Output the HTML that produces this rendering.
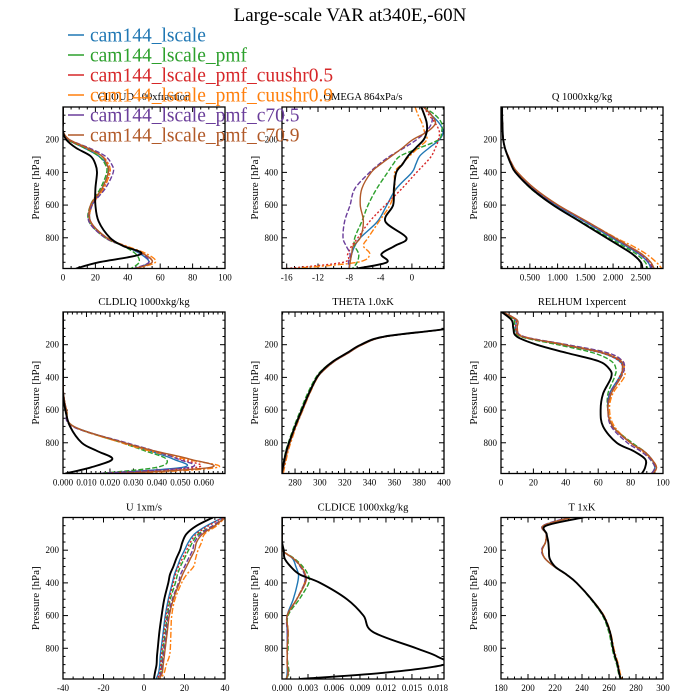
<!DOCTYPE html>
<html><head><meta charset="utf-8">
<style>
html,body{margin:0;padding:0;background:#fff;}
svg{display:block;font-family:"Liberation Serif",serif;}
</style></head>
<body>
<svg id="chart" width="700" height="700" viewBox="0 0 700 700" xmlns="http://www.w3.org/2000/svg">
<text x="350" y="21" text-anchor="middle" font-size="19">Large-scale VAR at340E,-60N</text>
<g id="panels"></g>
<g id="legend"></g>
</svg>
<script>
const NS="http://www.w3.org/2000/svg";
const levels=[0,50,100,150,200,250,300,350,400,500,600,700,800,850,900,950,988];
const seriesNames=["cam144_lscale","cam144_lscale_pmf","cam144_lscale_pmf_cuushr0.5","cam144_lscale_pmf_cuushr0.9","cam144_lscale_pmf_c70.5","cam144_lscale_pmf_c70.9"];
const seriesColors=["#1f77b4","#2ca02c","#d62728","#ff7f0e","#6a3d9a","#b15928"];
const seriesDash=["","5,2","2,2","6,2,2,2","5,2",""];

// CLOUD
const cloudObs=[0,0,0,0,2,8,17,20,21,20,20,22,29,37,48,22,8];
const cloudBlue=[0,0,0,0,3,13,22,27,28,24,18,17,27,38,48,53,45];
const cloudGreen=[0,0,0,0,3,13,22,26,27,23,17,16,26,37,45,47,42];
const cloudRed=[0,0,0,0,3,14,24,28,29,25,18,17,27,38,50,55,45];
const cloudOrange=[0,0,0,0,4,15,24,28,29,25,18,17,27,39,52,57,45];
const cloudPurple=[0,0,0,0,4,16,26,30,31,26,18,16,26,38,49,53,44];
const cloudBrown=[0,0,0,0,4,15,24,27,28,24,17,17,27,38,50,55,45];
// OMEGA
const omegaObs=[1.2,1.6,1.9,1.9,1.5,0.5,-0.5,-1.2,-2.0,-2.3,-2.4,-3.4,-0.7,-2.2,-3.9,-3.2,-7];
const omegaBlue=[1.5,2.5,3.5,4.0,3.5,2.2,1.0,0.5,0,-2.0,-3.2,-4.4,-6.6,-7.3,-7.7,-7.9,-8];
const omegaGreen=[1.5,3.0,3.8,3.8,3.4,1.0,-1.5,-2.4,-3.1,-4.5,-5.6,-6.4,-7.3,-7.3,-6.8,-7.0,-7.6];
const omegaRed=[1.5,2.2,3.0,3.5,3.4,3.0,2.5,1.6,0.6,-1.3,-3.4,-5.4,-6.9,-7.7,-8.2,-8.8,-16];
const omegaOrange=[0.4,0.8,1.3,1.6,1.9,0.8,-0.3,-1.3,-2.2,-2.2,-2.8,-4.2,-5.6,-6.2,-5.4,-7,-15];
const omegaPurple=[1.5,2.5,2.5,1.8,0.6,-1.0,-2.8,-4.2,-5.4,-7.3,-7.9,-8.6,-8.8,-8.4,-7.9,-8.1,-8];
const omegaBrown=[1.5,2.5,3.0,2.0,0.1,-1.2,-2.6,-4.0,-5.2,-6.4,-6.6,-6.2,-6.6,-7.5,-7.7,-7.9,-8];
// Q
const qObs=[0,0,0.005,0.01,0.02,0.05,0.1,0.16,0.24,0.53,0.92,1.4,1.88,2.12,2.35,2.5,2.53];
const qBlue=[0,0,0.005,0.01,0.02,0.05,0.1,0.17,0.26,0.56,0.97,1.48,1.98,2.23,2.47,2.63,2.68];
const qGreen=[0,0,0.005,0.01,0.02,0.05,0.1,0.16,0.25,0.52,0.92,1.42,1.93,2.18,2.42,2.58,2.62];
const qRed=[0,0,0.005,0.01,0.02,0.05,0.11,0.18,0.27,0.58,1.0,1.52,2.02,2.27,2.5,2.67,2.72];
const qOrange=[0,0,0.005,0.01,0.02,0.05,0.11,0.18,0.27,0.58,1.0,1.52,2.05,2.35,2.6,2.78,2.88];
const qPurple=[0,0,0.005,0.01,0.02,0.05,0.11,0.18,0.27,0.57,0.99,1.5,2.0,2.25,2.48,2.64,2.7];
const qBrown=[0,0,0.005,0.01,0.02,0.05,0.11,0.18,0.28,0.59,1.01,1.53,2.03,2.28,2.52,2.68,2.74];
// CLDLIQ
const liqObs=[0,0,0,0,0,0,0,0,0,0,0.001,0.003,0.008,0.0145,0.021,0.012,0.001];
const liqBlue=[0,0,0,0,0,0,0,0,0,0.0002,0.0015,0.0045,0.026,0.037,0.047,0.051,0.015];
const liqGreen=[0,0,0,0,0,0,0,0,0,0.0002,0.0015,0.0045,0.025,0.035,0.044,0.04,0.015];
const liqRed=[0,0,0,0,0,0,0,0,0,0.0002,0.0015,0.0045,0.026,0.038,0.05,0.057,0.015];
const liqOrange=[0,0,0,0,0,0,0,0,0,0.0002,0.0015,0.0045,0.025,0.037,0.052,0.066,0.03];
const liqPurple=[0,0,0,0,0,0,0,0,0,0.0002,0.0015,0.004,0.027,0.039,0.049,0.054,0.015];
const liqBrown=[0,0,0,0,0,0,0,0,0,0.0002,0.0015,0.0045,0.026,0.039,0.054,0.063,0.025];
// THETA
const thetaObs=[450,420,404,352,333,322,311,303,297.6,291,285.4,280,275.1,273,271.5,270.2,269.2];
const thetaBlue=[450,420,404,353,334,323,312,304,298,291.5,286,280.5,275.8,273.8,272.2,270.8,269.8];
const thetaGreen=[450,420,404,353,334,322,311,302.5,296.8,290,284.5,279.2,274.6,272.6,271.2,270,269.2];
const thetaRed=[450,420,404,353,334,323,312,304,298,291.5,286,280.5,275.8,273.8,272.2,270.8,269.8];
const thetaOrange=[450,420,404,353,334,323,312,304,298.2,291.8,286.3,281,276.5,274.5,273,271.5,270.5];
const thetaPurple=[450,420,404,353,334,323,312,304,298,291.5,286,280.5,275.8,273.8,272.2,270.8,269.8];
const thetaBrown=[450,420,404,353,334,323,312,304,298,291.5,286,280.5,275.9,273.9,272.3,270.9,269.9];
// RELHUM
const rhObs=[0.4,6.6,7.6,9.7,22,40.5,60,67,68,63,61.5,63,71.4,81.7,89,89,87];
const rhBlue=[1,9,9,13,38,62,73,75,73,67,66,69,80,88,93,95,93];
const rhGreen=[1,8,8,12,35,57,68,71,70,66,66,69,81,88,92,95,93];
const rhRed=[1,9,9,13,38,62,73,75,73,68,66,69,80,88,93,95,93];
const rhOrange=[1,10,10,14,40,64,75,76,76,69,67,70,80,87,93,96,94];
const rhPurple=[1,10,10,14,41,66,75,76,74,67,66,68,78,86,92,95,93];
const rhBrown=[1,10,10,13,39,63,74,75,74,68,66,69,80,88,93,96,94];
// U
const uObs=[34,26,21,19,17.8,16,14.5,12.8,12,10,8.7,7.6,6.8,6.4,6.2,5.4,4.9];
const uBlue=[39,31,25,22,20,18,16.5,15,14,12,10.5,9.5,8.5,8,7.8,7.2,6];
const uGreen=[40,34,27,24,22,20,18,16.5,15.5,13,11.5,10.5,9.5,9,8.7,8.3,7];
const uRed=[39,32,26,23,21,19,17,15.5,14.5,12.5,11,10,9,8.6,8.3,7.8,6.5];
const uOrange=[40,36,30,28.5,26.7,25.5,24.5,21,18.6,15.3,13.7,13.3,13,12.5,11,10,8];
const uPurple=[40,34,28,25,24,22,20,18,17,14,12,11,10,9.5,9,8.5,7];
const uBrown=[40,35,29,26,25,23,21,19,17.5,14.5,12.5,11.5,10.5,10,9.5,9,7.5];
// CLDICE
const iceObs=[0,0,0,0,0.0002,0.0003,0.001,0.0021,0.0044,0.0075,0.0094,0.0105,0.0155,0.0179,0.0187,0.0117,0.002];
const iceBlue=[0,0,0,0,0,0.0012,0.0016,0.0019,0.0018,0.0013,0.0006,0.0006,0.0006,0.0006,0.0006,0.0006,0.0005];
const iceGreen=[0,0,0,0,0,0.0014,0.0024,0.003,0.0031,0.002,0.0007,0.0007,0.0007,0.0006,0.0007,0.0008,0.0005];
const iceRed=[0,0,0,0,0,0.0013,0.0022,0.0027,0.0027,0.0017,0.0006,0.0007,0.0006,0.0006,0.0006,0.0007,0.0005];
const iceOrange=[0,0,0,0,0,0.0013,0.0022,0.0027,0.0026,0.0017,0.0006,0.0007,0.0006,0.0006,0.0006,0.0007,0.0005];
const icePurple=[0,0,0,0,0,0.0013,0.0021,0.0026,0.0026,0.0017,0.0006,0.0006,0.0006,0.0006,0.0006,0.0007,0.0005];
const iceBrown=[0,0,0,0,0,0.0013,0.0022,0.0027,0.0027,0.0017,0.0006,0.0007,0.0006,0.0006,0.0006,0.0007,0.0005];
// T
const tObs=[241,213.5,213.8,215,215.5,216,220,228.7,236,247,255.8,260.7,263,264.5,266.4,267.5,268.7];
const tBlue=[232,211.5,213.5,213,210.5,212.5,219.5,228.5,236,247,256,260.5,263,264.5,266.3,267.5,268.8];
const tGreen=[232,211.5,213.5,213,210.5,212.5,219.5,228.5,236,246.5,255.2,259.8,262.3,263.8,265.7,267,268.3];
const tRed=[232,211.5,213.5,213,210.5,212.5,219.5,228.5,236,247,256,260.5,263,264.5,266.3,267.5,268.8];
const tOrange=[232,211.5,213.5,213,210.5,212.5,219.5,228.5,236,247.2,256.3,261,263.6,265.2,267,268.2,269.5];
const tPurple=[230,211,213.5,213,210,212.5,219.5,228.5,236,247,256,260.5,263,264.5,266.3,267.5,268.8];
const tBrown=[232,211.5,213.5,213,210.5,212.5,219.5,228.5,236,247,256,260.5,263,264.5,266.3,267.5,268.8];

const cloudTicks=[0,20,40,60,80,100];
const omegaTicks=[-16,-12,-8,-4,0];
const qTicks=[0.5,1.0,1.5,2.0,2.5];
const liqTicks=[0,0.01,0.02,0.03,0.04,0.05,0.06];
const thetaTicks=[280,300,320,340,360,380,400];
const rhTicks=[0,20,40,60,80,100];
const uTicks=[-40,-20,0,20,40];
const iceTicks=[0,0.003,0.006,0.009,0.012,0.015,0.018];
const tTicks=[180,200,220,240,260,280,300];
const pTicks=[200,400,600,800];

const panels=[
 {name:"cloud",title:"CLOUD  100xfraction",col:0,row:0,xmin:0,xmax:100,ticks:cloudTicks,minor:5,fmt:v=>String(v),data:[cloudBlue,cloudGreen,cloudRed,cloudOrange,cloudPurple,cloudBrown],obs:cloudObs},
 {name:"omega",title:"OMEGA  864xPa/s",col:1,row:0,xmin:-16.6,xmax:4.1,ticks:omegaTicks,minor:1,fmt:v=>String(v),data:[omegaBlue,omegaGreen,omegaRed,omegaOrange,omegaPurple,omegaBrown],obs:omegaObs},
 {name:"q",title:"Q  1000xkg/kg",col:2,row:0,xmin:-0.02,xmax:2.9,ticks:qTicks,minor:0.1,fmt:v=>v.toFixed(3),data:[qBlue,qGreen,qRed,qOrange,qPurple,qBrown],obs:qObs},
 {name:"cldliq",title:"CLDLIQ  1000xkg/kg",col:0,row:1,xmin:0,xmax:0.069,ticks:liqTicks,minor:0.002,fmt:v=>v.toFixed(3),data:[liqBlue,liqGreen,liqRed,liqOrange,liqPurple,liqBrown],obs:liqObs},
 {name:"theta",title:"THETA  1.0xK",col:1,row:1,xmin:269.5,xmax:400,ticks:thetaTicks,minor:5,fmt:v=>String(v),data:[thetaBlue,thetaGreen,thetaRed,thetaOrange,thetaPurple,thetaBrown],obs:thetaObs},
 {name:"relhum",title:"RELHUM  1xpercent",col:2,row:1,xmin:0,xmax:100,ticks:rhTicks,minor:5,fmt:v=>String(v),data:[rhBlue,rhGreen,rhRed,rhOrange,rhPurple,rhBrown],obs:rhObs},
 {name:"u",title:"U  1xm/s",col:0,row:2,xmin:-40,xmax:40,ticks:uTicks,minor:5,fmt:v=>String(v),data:[uBlue,uGreen,uRed,uOrange,uPurple,uBrown],obs:uObs},
 {name:"cldice",title:"CLDICE  1000xkg/kg",col:1,row:2,xmin:0,xmax:0.0187,ticks:iceTicks,minor:0.001,fmt:v=>v.toFixed(3),data:[iceBlue,iceGreen,iceRed,iceOrange,icePurple,iceBrown],obs:iceObs},
 {name:"t",title:"T  1xK",col:2,row:2,xmin:180,xmax:300,ticks:tTicks,minor:5,fmt:v=>String(v),data:[tBlue,tGreen,tRed,tOrange,tPurple,tBrown],obs:tObs}
];
const colX=[63,282,501], rowY=[107,312,517.5], PW=162, PH=161.5, PMAX=988;
const root=document.getElementById("panels");
function el(tag,attrs,parent){const e=document.createElementNS(NS,tag);for(const k in attrs)e.setAttribute(k,attrs[k]);(parent||root).appendChild(e);return e;}
function smoothPath(pts){
 let d="M"+pts[0][0].toFixed(2)+","+pts[0][1].toFixed(2);
 for(let i=0;i<pts.length-1;i++){
  const p0=pts[Math.max(0,i-1)],p1=pts[i],p2=pts[i+1],p3=pts[Math.min(pts.length-1,i+2)];
  const t=0.17;
  const c1=[p1[0]+(p2[0]-p0[0])*t,p1[1]+(p2[1]-p0[1])*t];
  const c2=[p2[0]-(p3[0]-p1[0])*t,p2[1]-(p3[1]-p1[1])*t];
  d+="C"+c1[0].toFixed(2)+","+c1[1].toFixed(2)+" "+c2[0].toFixed(2)+","+c2[1].toFixed(2)+" "+p2[0].toFixed(2)+","+p2[1].toFixed(2);
 }
 return d;
}
panels.forEach(p=>{
 const x0=colX[p.col], y0=rowY[p.row];
 const g=el("g",{});
 
 
 const sx=v=>x0+(v-p.xmin)/(p.xmax-p.xmin)*PW;
 const sy=pr=>y0+pr/PMAX*PH;
 const clipId="clip-"+p.name;
 const cp=el("clipPath",{id:clipId},g);
 el("rect",{x:x0,y:y0,width:PW,height:PH},cp);
 const t=el("text",{x:x0+PW/2,y:y0-7,"text-anchor":"middle","font-size":"10.5"},g);
 t.textContent=p.title;
 
 
 const yl=el("text",{x:0,y:0,"text-anchor":"middle","font-size":"11",transform:`translate(${x0-24},${y0+PH/2}) rotate(-90)`},g);
 yl.textContent="Pressure [hPa]";
 
 
 for(let pr=50;pr<PMAX;pr+=50){
  const y=sy(pr), maj=pr%200===0;
  const L=maj?5:2.5;
  el("line",{x1:x0,y1:y,x2:x0+L,y2:y,stroke:"#000","stroke-width":"1"},g);
  el("line",{x1:x0+PW,y1:y,x2:x0+PW-L,y2:y,stroke:"#000","stroke-width":"1"},g);
 }
 pTicks.forEach(pr=>{
  const tt=el("text",{x:x0-4,y:sy(pr)+3,"text-anchor":"end","font-size":"9"},g);
  tt.textContent=String(pr);
  
  
 });
 const start=Math.ceil((p.xmin-1e-9)/p.minor);
 for(let k=start;k*p.minor<=p.xmax+1e-9;k++){
  const v=k*p.minor, x=sx(v);
  const maj=p.ticks.some(tv=>Math.abs(tv-v)<p.minor/10);
  const L=maj?5:2.5;
  el("line",{x1:x,y1:y0+PH,x2:x,y2:y0+PH-L,stroke:"#000","stroke-width":"1"},g);
  el("line",{x1:x,y1:y0,x2:x,y2:y0+L,stroke:"#000","stroke-width":"1"},g);
 }
 p.ticks.forEach(v=>{
  const tt=el("text",{x:sx(v),y:y0+PH+12,"text-anchor":"middle","font-size":"9"},g);
  tt.textContent=p.fmt(v);
  
  
 });
 const lg=el("g",{"clip-path":`url(#${clipId})`},g);
 p.data.forEach((arr,i)=>{
  const d=smoothPath(arr.map((v,j)=>[sx(v),sy(levels[j])]));
  const path=el("path",{d:d,fill:"none",stroke:seriesColors[i],"stroke-width":"1.4","stroke-dasharray":seriesDash[i],"stroke-linejoin":"round"},lg);
  
  
 });
 const od=smoothPath(p.obs.map((v,j)=>[sx(v),sy(levels[j])]));
 const op=el("path",{d:od,fill:"none",stroke:"#000","stroke-width":"1.9","stroke-linejoin":"round"},lg);
 
 
 const fr=el("rect",{x:x0,y:y0,width:PW,height:PH,fill:"none",stroke:"#000","stroke-width":"1.3"},g);
 
 
});
const leg=document.getElementById("legend");
seriesNames.forEach((n,i)=>{
 const cy=35+i*20;
 const ln=el("line",{x1:68,y1:cy,x2:84,y2:cy,stroke:seriesColors[i],"stroke-width":"1.5"},leg);
 
 
 const tx=el("text",{x:90,y:cy+6.5,"font-size":"19.5",fill:seriesColors[i]},leg);
 tx.textContent=n;
 
 
});
</script>
</body></html>
